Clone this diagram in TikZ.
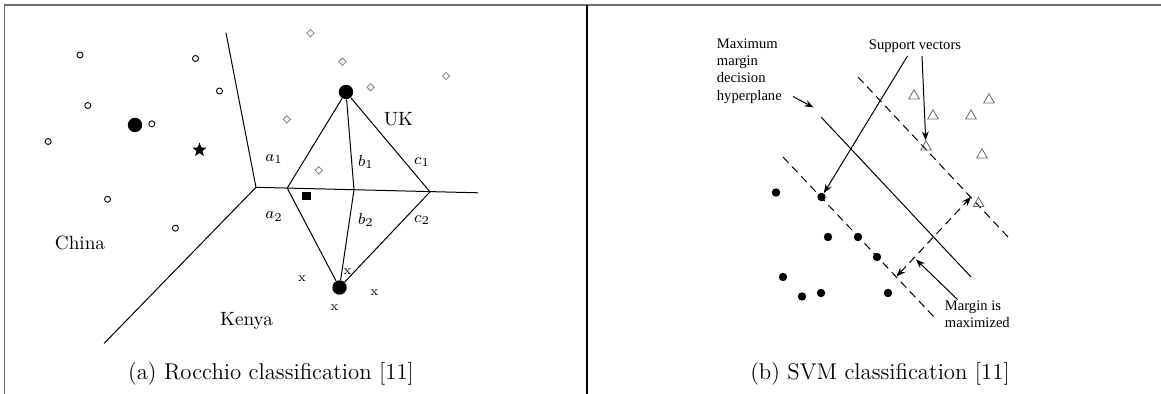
\documentclass[tikz,border=0pt]{standalone}
\usepackage{fontspec}
\usetikzlibrary{shapes.geometric,arrows.meta}

\newfontfamily\notefont{Liberation Serif}

\definecolor{framegray}{RGB}{112,112,112}
\definecolor{diamgray}{RGB}{135,120,112}
\definecolor{trigray}{RGB}{105,105,105}

\tikzset{
  edge/.style={line width=0.5pt},
  dashedge/.style={line width=0.5pt, dash pattern={on 4pt off 2.6pt}},
  bigdot/.style={circle, fill=black, inner sep=0pt, minimum size=7.2pt},
  smallcirc/.style={circle, draw=black, line width=0.45pt, inner sep=0pt, minimum size=3pt},
  diam/.style={diamond, draw=diamgray, line width=0.4pt, inner sep=0pt, minimum size=3.8pt},
  sqbox/.style={rectangle, fill=black, inner sep=0pt, minimum size=4.4pt},
  starnode/.style={star, star points=5, star point ratio=2.4, fill=black, inner sep=0pt, minimum size=7.5pt},
  svdot/.style={circle, fill=black, inner sep=0pt, minimum size=4.2pt},
  tri/.style={regular polygon, regular polygon sides=3, draw=trigray, line width=0.4pt, inner sep=0pt, minimum size=6.2pt},
  region/.style={inner sep=0pt, font=\fontsize{9.6}{11}\selectfont},
  seglab/.style={inner sep=0pt, font=\fontsize{8}{9}\selectfont},
  xmark/.style={inner sep=0pt, font=\fontsize{6.5}{7}\selectfont},
  note/.style={inner sep=0pt, align=left, font=\notefont\fontsize{7.3}{8.6}\selectfont},
  caption/.style={inner sep=0pt, font=\fontsize{11.4}{13}\selectfont},
  pointer/.style={line width=0.5pt, -{Stealth[length=4.5pt,width=3.4pt]}},
}

\begin{document}
\begin{tikzpicture}[x=0.5pt,y=0.5pt,yscale=-1,xscale=1]
\useasboundingbox (0,0) rectangle (1161,394);

%Frame
\draw [color=framegray, line width=0.75pt] (4.5,394) -- (4.5,5) -- (1161,5);
\draw [line width=1pt] (587,5) -- (587,394);

%%% (a) Rocchio
%Voronoi borders
\coordinate (vtop) at (226,33);
\coordinate (vmid) at (256,187.3);
\coordinate (vbot) at (104,343.5);
\coordinate (vend) at (478,192.8);
\draw [edge] (vtop) -- (vmid) -- (vbot);
\draw [edge] (vmid) -- (vend);
%Kite corners on the UK/Kenya border
\coordinate (ka) at (287.2,188.1);
\coordinate (kb) at (354,189.9);
\coordinate (kc) at (430,191.9);

%Centroids
\node [bigdot] (cn) at (135,125) {};
\node [bigdot] (uk) at (346,92) {};
\node [bigdot] (ke) at (339.5,287.5) {};
\draw [edge] (uk) -- (ka) -- (ke) -- (kc) -- (uk);
\draw [edge] (uk) -- (kb) -- (ke);

%China docs
\foreach \px/\py [count=\i] in {80/55, 195.5/58.5, 219.5/91, 87.8/105.5, 151.8/123.8, 48.2/141.5, 107.6/199.3, 175.4/228.2}
  \node [smallcirc] (c\i) at (\px,\py) {};
%UK docs
\foreach \px/\py [count=\i] in {310.5/33.3, 342.5/61.7, 370.7/87.3, 446/76, 286.8/119.3, 318.8/170.3}
  \node [diam] (u\i) at (\px,\py) {};
%Kenya docs
\foreach \px/\py [count=\i] in {302/278.5, 347.5/271.5, 374.5/293, 334.5/307.5}
  \node [xmark] (k\i) at (\px,\py) {x};
%Test docs
\node [starnode] (star) at (199.5,150) {};
\node [sqbox] (sq) at (306.7,196) {};

% Text Node
\node [region] (china) at (80,243) {China};
\node [region] (kenya) at (246.5,320.7) {Kenya};
\node [region] (uklab) at (398.5,119.5) {UK};
\node [seglab] (a1) at (274,159) {$a_1$};
\node [seglab] (b1) at (366,162) {$b_1$};
\node [seglab] (c1) at (422,162) {$c_1$};
\node [seglab] (a2) at (274,216.5) {$a_2$};
\node [seglab] (b2) at (366,220) {$b_2$};
\node [seglab] (c2) at (422,220) {$c_2$};
\node [caption] (capa) at (271,374) {(a) Rocchio classification [11]};

%%% (b) SVM
%Hyperplane and margins
\coordinate (hp1) at (821,117);
\coordinate (hp2) at (971,277);
\coordinate (up1) at (858,77);
\coordinate (up2) at (1008,237);
\coordinate (lo1) at (783,157);
\coordinate (lo2) at (934,317);
\draw [edge] (hp1) -- (hp2);
\draw [dashedge] (up1) -- (up2);
\draw [dashedge] (lo1) -- (lo2);

%Class one
\foreach \px/\py [count=\i] in {914/96, 989/100, 933/116, 971/116, 982/155}
  \node [tri] (t\i) at (\px,\py) {};
\node [tri] (tsa) at (926,147) {};
\node [tri] (tsb) at (978.5,203.5) {};
%Class two
\foreach \px/\py [count=\i] in {776/192.5, 828/237, 858/237, 877/257, 783/277, 802/296.5, 821/293, 888/293}
  \node [svdot] (d\i) at (\px,\py) {};
\node [svdot] (dsa) at (821.5,197) {};

% Text Node
\node [note, anchor=north west] (hyptxt) at (716.5,38.5) {Maximum\\margin\\decision\\hyperplane};
\node [note] (svtxt) at (915,46.5) {Support vectors};
\node [note, anchor=north west] (martxt) at (944.5,300.5) {Margin is\\maximized};
\node [caption] (capb) at (880,374) {(b) SVM classification [11]};

%Pointers
\coordinate (hypa) at (793,96.5);
\coordinate (hypb) at (813.5,107.5);
\draw [pointer] (hypa) -- (hypb);
\coordinate (sva) at (907.5,56);
\coordinate (svb) at (922,56);
\draw [pointer] (sva) -- (dsa);
\draw [pointer] (svb) -- (tsa);
\coordinate (mga) at (957.5,299.5);
\coordinate (mgb) at (916,259.5);
\draw [pointer] (mga) -- (mgb);
\coordinate (mlo) at (896.5,276.5);
\coordinate (mup) at (971,197);
\draw [dashedge, {Stealth[length=4.5pt,width=3.4pt]}-{Stealth[length=4.5pt,width=3.4pt]}] (mlo) -- (mup);

\end{tikzpicture}
\end{document}
